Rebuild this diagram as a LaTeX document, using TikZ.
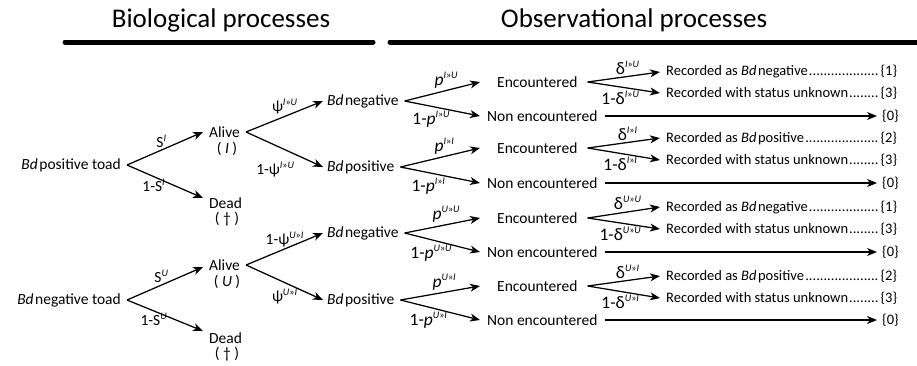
\documentclass[tikz,border=0pt]{standalone}
\usepackage{fontspec}
\setmainfont{Carlito}
\usetikzlibrary{arrows.meta}
\newcommand\spx[1]{\raisebox{.4em}{\fontsize{10}{11}\selectfont#1}}
\newcommand\IU{\spx{\textit{I}»\textit{U}}}
\newcommand\II{\spx{\textit{I}»\textit{I}}}
\newcommand\UU{\spx{\textit{U}»\textit{U}}}
\newcommand\UI{\spx{\textit{U}»\textit{I}}}
\newcommand\Bd{\textit{Bd}\hspace{1.5pt}}
\newcommand\dotlead{\leaders\hbox{.}\hfill}
\begin{document}
\begin{tikzpicture}[x=1pt,y=-1pt,
  every node/.style={inner sep=0pt, font=\fontsize{15.5}{18}\selectfont},
  arr/.style={line width=1.25pt, -{Stealth[length=10pt,width=8pt,inset=3pt]}},
  lbl/.style={inner sep=1.5pt},
  lblb/.style={inner sep=1.5pt, font=\fontsize{17.5}{20}\selectfont},
  rec/.style={anchor=west, font=\fontsize{14.5}{17}\selectfont},
  ttl/.style={font=\fontsize{27}{30}\selectfont},
  bar/.style={line width=5pt, line cap=round}]
\useasboundingbox (0,0) rectangle (917,365);
% titles
\node[ttl] (t1) at (221,20) {Biological processes};
\node[ttl] (t2) at (634,20) {Observational processes};
\draw[bar] (65,42) -- (373,42);
\draw[bar] (390,42) -- (925,42);
% stage 0
\node[anchor=east] (bp) at (121,165) {\Bd positive toad};
\node[anchor=east] (bn) at (121,300) {\Bd negative toad};
% stage 1
\node[anchor=west] (aI) at (209,132) {Alive};
\node (aIs) at (227,149) {( \textit{I} )};
\node[anchor=west] (dI) at (209,203) {Dead};
\node (dIs) at (227,219) {( † )};
\node[anchor=west] (aU) at (209,265) {Alive};
\node (aUs) at (227,282) {( \textit{U} )};
\node[anchor=west] (dU) at (209,338) {Dead};
\node (dUs) at (227,354) {( † )};
\draw[arr] ([xshift=6]bp.east) -- node[lbl,above,pos=.45]{S\spx{\textit{I}}} ([xshift=-6]aI.west);
\draw[arr] ([xshift=6]bp.east) -- node[lbl,below,pos=.35]{1-S\spx{\textit{I}}} ([xshift=-6,yshift=5pt]dI.west);
\draw[arr] ([xshift=6]bn.east) -- node[lbl,above,pos=.45]{S\spx{\textit{U}}} ([xshift=-6,yshift=-2pt]aU.west);
\draw[arr] ([xshift=6]bn.east) -- node[lbl,below,pos=.35]{1-S\spx{\textit{U}}} ([xshift=-6,yshift=7pt]dU.west);
% stage 2
\node[anchor=west] (b1) at (327,101) {\Bd negative};
\node[anchor=west] (b2) at (327,167) {\Bd positive};
\node[anchor=west] (b3) at (327,233) {\Bd negative};
\node[anchor=west] (b4) at (327,300) {\Bd positive};
\draw[arr] ([xshift=6]aI.east) -- node[lbl,above,pos=.5]{ψ\IU} ([xshift=-4]b1.west);
\draw[arr] ([xshift=6]aI.east) -- node[lbl,below left,pos=.65,yshift=-5pt]{1-ψ\IU} ([xshift=-4]b2.west);
\draw[arr] ([xshift=6]aU.east) -- node[lbl,above,pos=.5]{1-ψ\UI} ([xshift=-4]b3.west);
\draw[arr] ([xshift=6]aU.east) -- node[lbl,below,pos=.5,yshift=-4pt]{ψ\UI} ([xshift=-4]b4.west);
% stages 3 and 4
\foreach \i/\ye/\yn/\ya/\yb/\sp/\st/\num in
  {1/82/116/72/93/\IU/negative/1,
   2/148/183/138/160/\II/positive/2,
   3/218/252/207/229/\UU/negative/1,
   4/286/320/276/298/\UI/positive/2}{
  \node[anchor=west] (e\i) at (497,\ye) {Encountered};
  \node[anchor=west] (n\i) at (487,\yn) {Non encountered};
  \node[rec] (ra\i) at (666,\ya) {\hbox to 231pt{Recorded as \Bd\st\dotlead\{\num\}}};
  \node[rec] (rb\i) at (666,\yb) {\hbox to 231pt{Recorded with status unknown\dotlead\{3\}}};
  \node[rec] (z\i) at (882,\yn) {\{0\}};
  \draw[arr] ([xshift=6]b\i.east) -- node[lblb,above,pos=.55]{\textit{p}\sp} ([xshift=-17]e\i.west);
  \draw[arr] ([xshift=6]b\i.east) -- node[lblb,below,pos=.35,yshift=-3pt]{1-\textit{p}\sp} ([xshift=-7]n\i.west);
  \draw[arr] ([xshift=10]e\i.east) -- node[lblb,above,pos=.55]{δ\sp} ([xshift=-6]ra\i.west);
  \draw[arr] ([xshift=10]e\i.east) -- node[lblb,below,pos=.45,yshift=-2pt]{1-δ\sp} ([xshift=-6]rb\i.west);
  \draw[arr] ([xshift=7]n\i.east) -- ([xshift=-5]z\i.west);
}
\end{tikzpicture}
\end{document}
